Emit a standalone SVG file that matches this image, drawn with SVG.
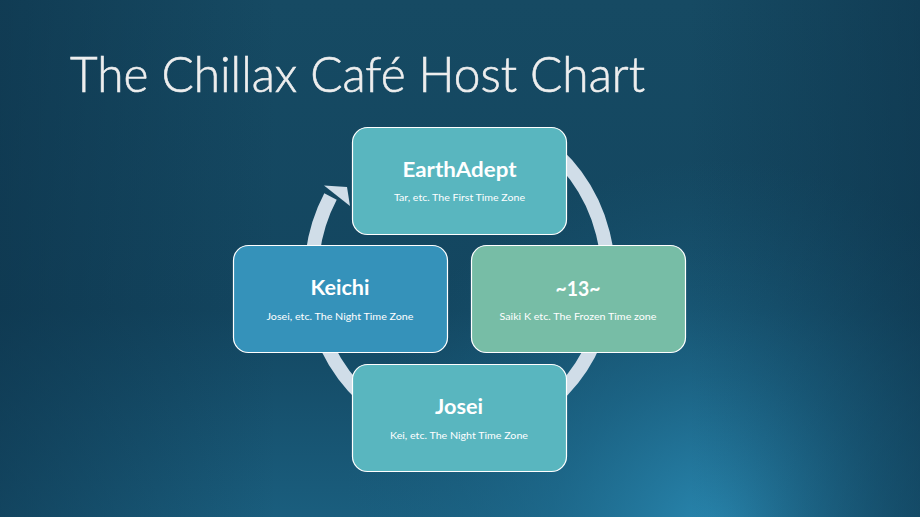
<svg xmlns="http://www.w3.org/2000/svg" width="920" height="517" viewBox="0 0 920 517">
  <defs>
    <linearGradient id="bgBase" x1="0" y1="0" x2="0" y2="1">
      <stop offset="0" stop-color="#164a63"/>
      <stop offset="0.6" stop-color="#134660"/>
      <stop offset="1" stop-color="#1a5e7e"/>
    </linearGradient>
    <radialGradient id="glow" cx="720" cy="540" r="380" gradientUnits="userSpaceOnUse">
      <stop offset="0" stop-color="#2a8ab3" stop-opacity="1"/>
      <stop offset="0.45" stop-color="#1f6f93" stop-opacity="0.6"/>
      <stop offset="1" stop-color="#1a5e7e" stop-opacity="0"/>
    </radialGradient>
    <linearGradient id="vignL" x1="0" y1="0" x2="1" y2="0">
      <stop offset="0" stop-color="#0c3047" stop-opacity="0.55"/>
      <stop offset="0.3" stop-color="#0c3047" stop-opacity="0"/>
      <stop offset="0.75" stop-color="#0c3047" stop-opacity="0"/>
      <stop offset="1" stop-color="#0c3047" stop-opacity="0.5"/>
    </linearGradient>
    <style>
      .box { stroke: #ffffff; stroke-width: 1.2; }
      .teal { fill: #59b6bf; }
      .blue { fill: #3592ba; }
      .green { fill: #77bda6; }
      .ttl { font-family: Lato, "Open Sans", "Liberation Sans", sans-serif; font-weight: 700; font-size: 21px; fill: #ffffff; text-anchor: middle; }
      .sub { font-family: Lato, "Open Sans", "Liberation Sans", sans-serif; font-size: 10px; fill: #ffffff; text-anchor: middle; }
      .ring { fill: none; stroke: #d0dde8; stroke-width: 14; }
    </style>
  </defs>

  <rect width="920" height="517" fill="url(#bgBase)"/>
  <rect width="920" height="517" fill="url(#glow)"/>
  <rect width="920" height="517" fill="url(#vignL)"/>

  <text x="70" y="92" font-family="Lato, 'Open Sans', 'Liberation Sans', sans-serif" font-weight="300" font-size="49" fill="#eeeeee" stroke="#eeeeee" stroke-width="0.6" textLength="575" lengthAdjust="spacingAndGlyphs">The Chillax Café Host Chart</text>

  <g id="connectors">
    <path class="ring" d="M 533.7 136.7 A 148.4 159.7 0 1 1 330.5 196.5"/>
    <polygon points="324,185.5 347,187 350,206" fill="#d0dde8"/>
  </g>

  <g id="node-earthadept">
    <rect class="box teal" x="352.5" y="127.5" width="214" height="107" rx="15"/>
    <text class="ttl" x="459.5" y="176.5" textLength="114" lengthAdjust="spacingAndGlyphs">EarthAdept</text>
    <text class="sub" x="459.5" y="201" textLength="131" lengthAdjust="spacingAndGlyphs">Tar, etc. The First Time Zone</text>
  </g>

  <g id="node-keichi">
    <rect class="box blue" x="233.5" y="245.5" width="214" height="107" rx="15"/>
    <text class="ttl" x="340" y="295" textLength="59" lengthAdjust="spacingAndGlyphs">Keichi</text>
    <text class="sub" x="340" y="319.5" textLength="147" lengthAdjust="spacingAndGlyphs">Josei, etc. The Night Time Zone</text>
  </g>

  <g id="node-13">
    <rect class="box green" x="471.5" y="245.5" width="214" height="107" rx="15"/>
    <text class="ttl" x="578" y="296" textLength="45" lengthAdjust="spacingAndGlyphs">~13~</text>
    <text class="sub" x="578" y="320" textLength="157" lengthAdjust="spacingAndGlyphs">Saiki K etc. The Frozen Time zone</text>
  </g>

  <g id="node-josei">
    <rect class="box teal" x="352.5" y="364.5" width="214" height="107" rx="15"/>
    <text class="ttl" x="459" y="414" textLength="48" lengthAdjust="spacingAndGlyphs">Josei</text>
    <text class="sub" x="459" y="438.5" textLength="138" lengthAdjust="spacingAndGlyphs">Kei, etc. The Night Time Zone</text>
  </g>
</svg>
